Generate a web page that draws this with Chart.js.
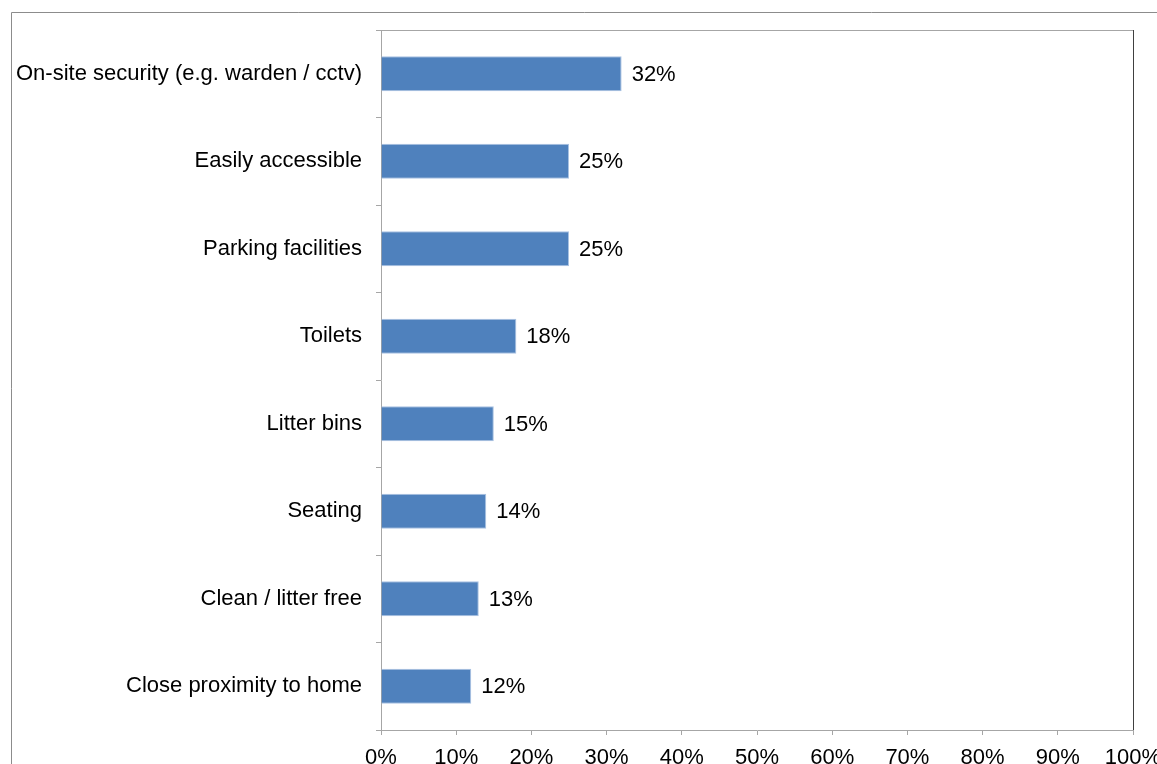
<!DOCTYPE html>
<html>
<head>
<meta charset="utf-8">
<script src="https://cdn.jsdelivr.net/npm/chart.js@4/dist/chart.umd.min.js"></script>
<style>
  html, body { margin: 0; padding: 0; background: #fff; }
  #wrap { width: 1157px; height: 764px; position: relative; }
</style>
</head>
<body>
<div id="wrap"><canvas id="grafico"></canvas></div>
<script>
// Respostas (percentagem)
const categorias = [
    "On-site security (e.g. warden / cctv)",
    "Easily accessible",
    "Parking facilities",
    "Toilets",
    "Litter bins",
    "Seating",
    "Clean / litter free",
    "Close proximity to home"
];
const valores = [32, 25, 25, 18, 15, 14, 13, 12];
const ticksX = [0, 10, 20, 30, 40, 50, 60, 70, 80, 90, 100];

const fonte = { family: "'Liberation Sans', Arial, sans-serif", size: 22 };

// moldura externa e borda da area do grafico
const moldura = {
    id: 'moldura',
    beforeDraw(chart) {
        const ctx = chart.ctx;
        ctx.save();
        ctx.strokeStyle = '#8c8c8c';
        ctx.lineWidth = 1;
        ctx.beginPath();
        ctx.moveTo(11.5, 770);
        ctx.lineTo(11.5, 12.5);
        ctx.lineTo(1170, 12.5);
        ctx.stroke();
        ctx.restore();
    },
    afterDraw(chart) {
        const a = chart.chartArea;
        const ctx = chart.ctx;
        ctx.save();
        ctx.lineWidth = 1;
        ctx.strokeStyle = '#a6a6a6';
        ctx.beginPath();
        ctx.moveTo(a.left, 30.5);
        ctx.lineTo(a.right, 30.5);
        ctx.stroke();
        ctx.strokeStyle = '#404040';
        ctx.beginPath();
        ctx.moveTo(Math.round(a.right) + 0.5, 30);
        ctx.lineTo(Math.round(a.right) + 0.5, a.bottom);
        ctx.stroke();
        ctx.restore();
    }
};

// rotulos de valor ao lado das barras
const rotulos = {
    id: 'rotulos',
    afterDatasetsDraw(chart) {
        const ctx = chart.ctx;
        const meta = chart.getDatasetMeta(0);
        ctx.save();
        ctx.font = `${fonte.size}px ${fonte.family}`;
        ctx.fillStyle = '#000';
        ctx.textAlign = 'left';
        ctx.textBaseline = 'middle';
        meta.data.forEach((bar, i) => {
            ctx.fillText(valores[i] + '%', bar.x + 10, bar.y + 1);
        });
        ctx.restore();
    }
};

new Chart(document.getElementById('grafico'), {
    type: 'bar',
    data: {
        labels: categorias,
        datasets: [{
            data: valores,
            backgroundColor: '#4f81bd',
            borderColor: '#a9c2e2',
            borderWidth: 1,
            categoryPercentage: 1,
            barPercentage: 0.4
        }]
    },
    options: {
        indexAxis: 'y',
        responsive: true,
        maintainAspectRatio: false,
        animation: false,
        layout: { padding: { top: 30, right: 0, left: 0, bottom: 0 } },
        plugins: {
            legend: { display: false },
            tooltip: { enabled: false }
        },
        scales: {
            x: {
                min: 0,
                max: 100,
                afterBuildTicks(scale) {
                    scale.ticks = ticksX.map(v => ({ value: v }));
                },
                afterFit(scale) {
                    scale.height = 34;
                    scale.paddingLeft = 0;
                    scale.paddingRight = 24;
                },
                ticks: {
                    callback: v => v + '%',
                    color: '#000',
                    font: fonte,
                    padding: 10,
                    maxRotation: 0
                },
                grid: {
                    drawOnChartArea: false,
                    tickLength: 5,
                    color: '#a6a6a6'
                },
                border: { color: '#a6a6a6' }
            },
            y: {
                afterFit(scale) {
                    scale.width = 381;
                    scale.paddingTop = 0;
                    scale.paddingBottom = 0;
                },
                ticks: {
                    color: '#000',
                    font: fonte,
                    padding: 14
                },
                grid: {
                    offset: true,
                    drawOnChartArea: false,
                    tickLength: 5,
                    color: '#a6a6a6'
                },
                border: { color: '#a6a6a6' }
            }
        }
    },
    plugins: [moldura, rotulos]
});
</script>
</body>
</html>
